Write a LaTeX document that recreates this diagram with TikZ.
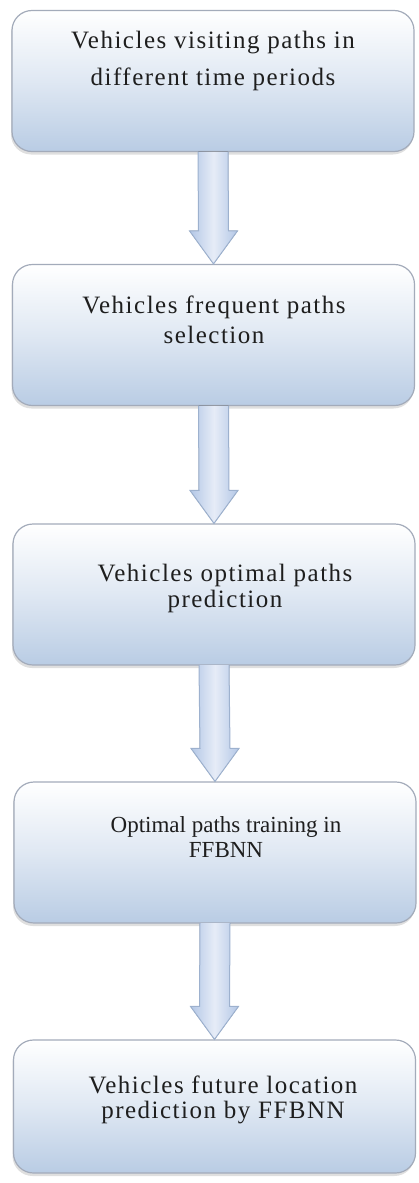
\documentclass[tikz,border=0pt]{standalone}
\usepackage{fontspec}
\setmainfont{Liberation Serif}
\newfontfamily\boxfont[LetterSpace=6]{Liberation Serif}
\newfontfamily\plainfont{Liberation Serif}
\usetikzlibrary{calc,shadows}
\definecolor{boxline}{HTML}{A3ABBA}
\definecolor{boxbot}{HTML}{B9CCE4}
\definecolor{arrline}{HTML}{9DB1CE}
\definecolor{arredge}{HTML}{B3C7E6}
\definecolor{arrmid}{HTML}{E6ECF7}
\definecolor{txt}{HTML}{1E1E1E}
\tikzset{
  flowbox/.style={draw=boxline, line width=1.2pt, rounded corners=20pt,
    minimum width=402pt, minimum height=141pt, inner sep=0pt,
    top color=white, bottom color=boxbot, middle color=boxbot!45,
    drop shadow={shadow xshift=-1pt, shadow yshift=-3pt, opacity=0.25}},
  bigtxt/.style={anchor=base, align=center, text=txt, inner sep=0pt},
  smalltxt/.style={anchor=base, align=center, text=txt, inner sep=0pt},
  fatarrow/.style={draw=arrline, line width=1pt, line join=miter,
    left color=arredge, right color=arredge, middle color=arrmid}
}
\begin{document}
\begin{tikzpicture}[x=1pt,y=-1pt]
\useasboundingbox (0,0) rectangle (418,1183);
\node[flowbox] (b1) at (213,81) {};
\node[flowbox] (b2) at (213.5,335) {};
\node[flowbox] (b3) at (214,594.5) {};
\node[flowbox] (b4) at (215,852.5) {};
\node[flowbox, minimum height=133pt] (b5) at (214.5,1106.5) {};
\foreach \u/\v in {b1/b2,b2/b3,b3/b4,b4/b5}{
  \filldraw[fatarrow]
    ($(\u.south)+(-15,-0.5)$) -- ($(\v.north)+(-15,-33)$) -- ($(\v.north)+(-24,-33)$)
    -- (\v.north) -- ($(\v.north)+(24,-33)$) -- ($(\v.north)+(15,-33)$)
    -- ($(\u.south)+(15,-0.5)$);
}
% texts (base anchor = baseline of the last line)
\node[bigtxt, font=\boxfont\fontsize{25}{37}\selectfont] (t1) at (213,85)
  {Vehicles visiting paths in\\different time periods};
\node[bigtxt, font=\boxfont\fontsize{25}{30}\selectfont] (t2) at (214,343)
  {Vehicles frequent paths\\selection};
\node[bigtxt, font=\boxfont\fontsize{25}{26}\selectfont] (t3) at (225,607)
  {Vehicles optimal paths\\prediction};
\node[smalltxt, font=\plainfont\fontsize{23}{25}\selectfont] (t4) at (226,857)
  {Optimal paths training in\\FFBNN};
\node[bigtxt, font=\boxfont\fontsize{25}{25}\selectfont] (t5) at (223,1118)
  {Vehicles future location\\prediction by FFBNN};
\end{tikzpicture}
\end{document}
